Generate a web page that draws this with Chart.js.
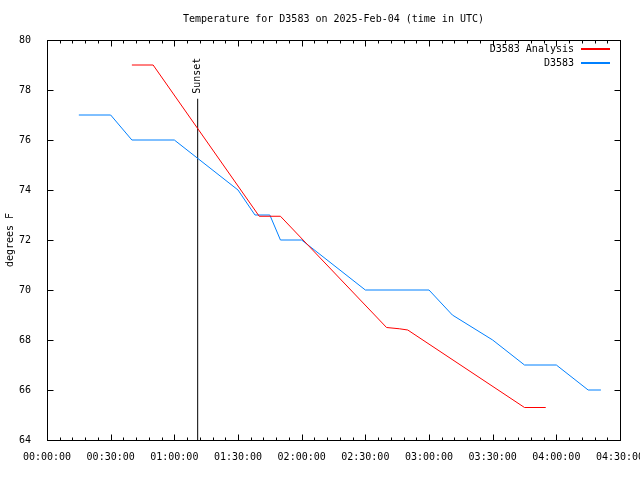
<!DOCTYPE html>
<html>
<head>
<meta charset="utf-8">
<script src="https://cdn.jsdelivr.net/npm/chart.js@4"></script>
<style>
  html, body { margin: 0; padding: 0; background: #fff; }
  #chart { display: block; }
</style>
</head>
<body>
<canvas id="chart" width="640" height="480"></canvas>
<script>
(function () {
  'use strict';

  // ── Data (times are HH:MM in UTC, temps in degrees F) ──────────────────
  const analysisTimes = ['00:40', '00:50', '01:40', '01:50', '02:40', '02:46', '02:50', '03:45', '03:55'];
  const analysisTemps = [79, 79, 72.95, 72.95, 68.5, 68.45, 68.4, 65.3, 65.3];

  const obsTimes = ['00:15', '00:30', '00:40', '01:00', '01:30', '01:38', '01:45', '01:50', '02:00',
                    '02:30', '03:00', '03:11', '03:30', '03:45', '04:00', '04:15', '04:21'];
  const obsTemps = [77, 77, 76, 76, 74, 73, 73, 72, 72, 70, 70, 69, 68, 67, 67, 66, 66];

  const sunsetTime = '01:11';
  const sunsetTop  = 77.65;

  const xTickLabels = ['00:00:00', '00:30:00', '01:00:00', '01:30:00', '02:00:00',
                       '02:30:00', '03:00:00', '03:30:00', '04:00:00', '04:30:00'];
  const yTicks = [64, 66, 68, 70, 72, 74, 76, 78, 80];

  const seriesNames  = ['D3583 Analysis', 'D3583'];
  const TITLE = 'Temperature for D3583 on 2025-Feb-04 (time in UTC)';
  const FONT  = '"DejaVu Sans Mono", monospace';
  const RED   = 'rgb(255,0,0)';
  const BLUE  = 'rgb(0,128,255)';
  const seriesColors = [RED, BLUE];

  // ── Helpers ────────────────────────────────────────────────────────────
  function toMin(t) {
    const [h, m] = t.split(':').map(Number);
    return h * 60 + m;
  }
  function pts(times, vals) {
    return times.map((t, i) => ({ x: toMin(t), y: vals[i] }));
  }

  // gnuplot-ish frame: border, inward ticks on all sides, title, sunset label
  const gnuFrame = {
    id: 'gnuFrame',
    afterDraw(chart) {
      const { ctx, chartArea: a, scales } = chart;
      const xs = scales.x, ys = scales.y;
      ctx.save();
      ctx.strokeStyle = '#000';
      ctx.lineWidth = 1;
      const L = Math.round(a.left) + 0.5, R = Math.round(a.right) + 0.5;
      const T = Math.round(a.top) + 0.5, B = Math.round(a.bottom) + 0.5;
      ctx.strokeRect(L, T, R - L, B - T);

      ctx.beginPath();
      for (let v = xs.min; v <= xs.max; v += 6) {
        const px = Math.round(xs.getPixelForValue(v)) + 0.5;
        const len = v % 30 === 0 ? 6 : 3;
        ctx.moveTo(px, B); ctx.lineTo(px, B - len);
        ctx.moveTo(px, T); ctx.lineTo(px, T + len);
      }
      yTicks.forEach(v => {
        const py = Math.round(ys.getPixelForValue(v)) + 0.5;
        ctx.moveTo(L, py); ctx.lineTo(L + 6, py);
        ctx.moveTo(R, py); ctx.lineTo(R - 6, py);
      });
      ctx.stroke();

      // title
      ctx.fillStyle = '#000';
      ctx.font = '10px ' + FONT;
      ctx.textAlign = 'center';
      ctx.textBaseline = 'middle';
      ctx.fillText(TITLE, (a.left + a.right) / 2, 19);

      // sunset label
      const sx = xs.getPixelForValue(toMin(sunsetTime));
      const sy = ys.getPixelForValue(sunsetTop);
      ctx.translate(sx, sy - 5);
      ctx.rotate(-Math.PI / 2);
      ctx.textAlign = 'left';
      ctx.fillText('Sunset', 0, 0);
      ctx.restore();

      // legend (inside the plot, upper right)
      ctx.save();
      ctx.font = '10px ' + FONT;
      ctx.textBaseline = 'middle';
      ctx.textAlign = 'right';
      seriesNames.forEach((name, i) => {
        const y = 49 + i * 14;
        ctx.fillStyle = '#000';
        ctx.fillText(name, 574, y);
        ctx.fillStyle = seriesColors[i];
        ctx.fillRect(581, y - 1, 29, 2);
      });
      ctx.restore();
    },
  };

  new Chart(document.getElementById('chart'), {
    type: 'line',
    data: {
      datasets: [
        {
          label: seriesNames[0],
          data: pts(analysisTimes, analysisTemps),
          borderColor: RED,
          borderWidth: 1,
          pointRadius: 0,
          tension: 0,
          fill: false,
        },
        {
          label: seriesNames[1],
          data: pts(obsTimes, obsTemps),
          borderColor: BLUE,
          borderWidth: 1,
          pointRadius: 0,
          tension: 0,
          fill: false,
        },
        {
          label: 'Sunset',
          data: [{ x: toMin(sunsetTime), y: yTicks[0] }, { x: toMin(sunsetTime), y: sunsetTop }],
          borderColor: '#000',
          borderWidth: 1,
          pointRadius: 0,
          fill: false,
        },
      ],
    },
    options: {
      responsive: false,
      animation: false,
      events: [],
      layout: { autoPadding: false, padding: { top: 40, right: 20, left: 0, bottom: 0 } },
      plugins: {
        legend: { display: false },
        title: { display: false },
        tooltip: { enabled: false },
      },
      scales: {
        x: {
          type: 'linear',
          min: 0, max: 270,
          grid: { display: false },
          border: { display: false },
          ticks: {
            stepSize: 6,
            autoSkip: false,
            maxRotation: 0,
            padding: 3,
            color: '#000',
            font: { family: FONT, size: 10 },
            callback: v => (v % 30 === 0 ? xTickLabels[v / 30] : ''),
          },
          afterFit(scale) {
            scale.height = 40;
            scale.paddingLeft = 0;
            scale.paddingRight = 0;
          },
        },
        y: {
          min: yTicks[0], max: yTicks[yTicks.length - 1],
          grid: { display: false },
          border: { display: false },
          ticks: {
            stepSize: 2,
            padding: 8,
            color: '#000',
            font: { family: FONT, size: 10 },
          },
          title: {
            display: true,
            text: 'degrees F',
            color: '#000',
            font: { family: FONT, size: 10 },
            padding: { top: 4, bottom: 0 },
          },
          afterFit(scale) {
            scale.width = 47;
            scale.paddingTop = 0;
            scale.paddingBottom = 0;
          },
        },
      },
    },
    plugins: [gnuFrame],
  });
})();
</script>
</body>
</html>
